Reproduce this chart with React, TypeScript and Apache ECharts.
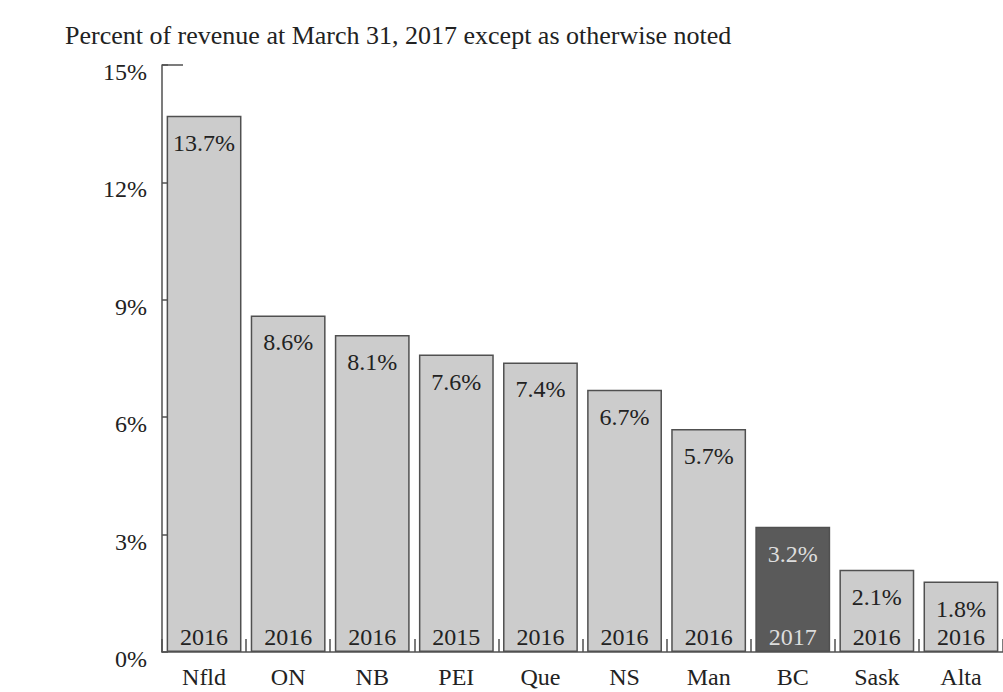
import React, { useEffect, useRef } from "react";
import * as echarts from "echarts";

const categories = ["Nfld", "ON", "NB", "PEI", "Que", "NS", "Man", "BC", "Sask", "Alta"];
const values = [13.7, 8.6, 8.1, 7.6, 7.4, 6.7, 5.7, 3.2, 2.1, 1.8];
const years = ["2016", "2016", "2016", "2015", "2016", "2016", "2016", "2017", "2016", "2016"];
const highlight = "BC";
const titleText = "Percent of revenue at March 31, 2017 except as otherwise noted";
const yMin = 0;
const yMax = 15;
const yStep = 3;

const FONT = "'Liberation Serif', 'Times New Roman', serif";
const LIGHT = "#cccccc";
const DARK = "#5a5a5a";
const EDGE = "#505050";

export default function App() {
  const ref = useRef<HTMLDivElement>(null);
  useEffect(() => {
    if (!ref.current) return;
    const chart = echarts.init(ref.current, null, { renderer: "svg" });
    const barData = values.map((v, i) => ({
      value: v,
      itemStyle: { color: categories[i] === highlight ? DARK : LIGHT },
      label: { color: categories[i] === highlight ? "#dddddd" : "#222222" },
    }));
    const yearData = values.map((v, i) => ({
      value: v,
      label: {
        formatter: years[i],
        color: categories[i] === highlight ? "#dddddd" : "#222222",
      },
    }));
    chart.setOption({
      animation: false,
      backgroundColor: "#ffffff",
      title: {
        text: titleText,
        left: 60,
        top: 17,
        textStyle: { fontFamily: FONT, fontSize: 26, fontWeight: "normal", color: "#222" },
      },
      grid: { left: 162, right: -9, top: 65, bottom: 40, containLabel: false },
      xAxis: {
        type: "category",
        data: categories,
        boundaryGap: true,
        axisLine: { lineStyle: { color: EDGE, width: 1.5 } },
        axisTick: { show: true, inside: true, length: 13, lineStyle: { color: EDGE, width: 1.5 } },
        axisLabel: { fontFamily: FONT, fontSize: 24, color: "#222", margin: 13 },
      },
      yAxis: {
        type: "value",
        min: yMin,
        max: yMax,
        interval: yStep,
        axisLine: { show: true, lineStyle: { color: EDGE, width: 1.5 } },
        axisTick: { show: true, inside: true, length: 6, lineStyle: { color: EDGE, width: 1.5 } },
        splitLine: { show: false },
        axisLabel: {
          fontFamily: FONT,
          fontSize: 24,
          color: "#222",
          margin: 15,
          verticalAlign: "top",
          lineHeight: 14,
          formatter: (v: number) => `${v}%`,
        },
      },
      series: [
        {
          type: "bar",
          data: barData,
          barCategoryGap: "11%",
          itemStyle: { borderColor: EDGE, borderWidth: 1.5 },
          label: {
            show: true,
            position: "insideTop",
            distance: 15,
            fontFamily: FONT,
            fontSize: 24,
            formatter: (p: any) => `${p.value}%`,
          },
          z: 2,
        },
        {
          type: "bar",
          data: yearData,
          barGap: "-100%",
          barCategoryGap: "11%",
          itemStyle: { color: "rgba(0,0,0,0)", borderWidth: 0 },
          label: {
            show: true,
            position: "insideBottom",
            distance: 3,
            fontFamily: FONT,
            fontSize: 24,
          },
          silent: true,
          z: 3,
        },
      ],
    });
    const topPt = chart.convertToPixel({ gridIndex: 0 }, [0, yMax]) as number[];
    const bandLeft = 162;
    chart.setOption({
      graphic: [
        {
          type: "line",
          shape: { x1: bandLeft, y1: topPt[1], x2: bandLeft + 21, y2: topPt[1] },
          style: { stroke: EDGE, lineWidth: 1.5 },
          z: 10,
        },
      ],
    });
    return () => chart.dispose();
  }, []);
  return (
    <div
      ref={ref}
      style={{ position: "absolute", left: 0, top: 0, width: 1003, height: 692 }}
    />
  );
}
